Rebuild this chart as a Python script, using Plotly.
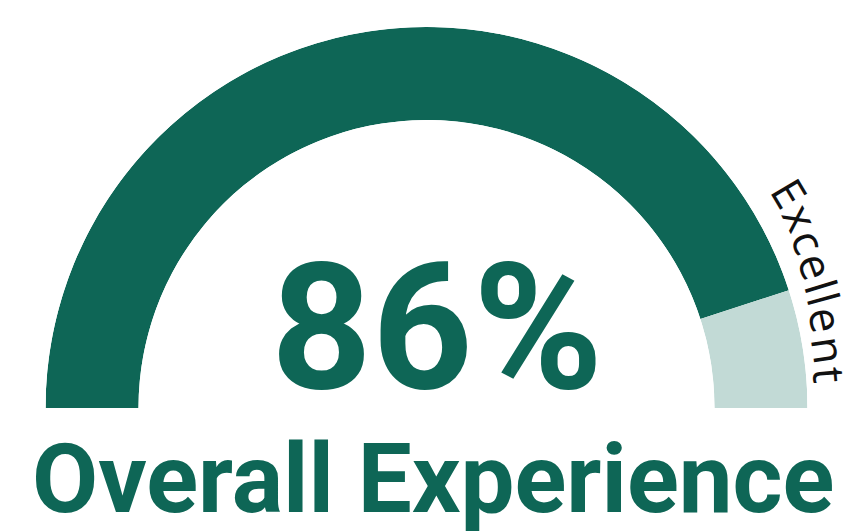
import plotly.graph_objects as go
import numpy as np

# ---- data ----
segment_labels = ["Overall", "Excellent"]
segment_values = [90, 10]          # visible arc split
segment_colors = ["#0e6656", "#c2dad6"]
value_label = "86%"
title_label = "Overall Experience"
band_label = "Excellent"

W, H = 846, 531
total = sum(segment_values)
widths = [180 * v / total for v in segment_values]
centers = []
start = 180
for w in widths:
    centers.append(start - w / 2)
    start -= w

fig = go.Figure()
fig.add_trace(go.Barpolar(
    r=[1] * len(segment_values),
    theta=centers,
    width=widths,
    marker=dict(color=segment_colors, line=dict(width=0)),
    text=segment_labels,
    hoverinfo="text",
    showlegend=False,
))

cx, cy, R = 426.5, 408, 381
fig.update_layout(
    width=W, height=H,
    margin=dict(l=0, r=0, t=0, b=0),
    paper_bgcolor="white", plot_bgcolor="white",
    polar=dict(
        domain=dict(x=[(cx - R) / W, (cx + R) / W], y=[(H - cy) / H, (H - cy + R) / H]),
        sector=[0, 180],
        hole=288 / 381,
        bgcolor="rgba(0,0,0,0)",
        radialaxis=dict(visible=False, range=[0, 1]),
        angularaxis=dict(visible=False),
    ),
)

fig.add_annotation(
    x=437 / W, y=(H - 328) / H, xref="paper", yref="paper",
    text=f"<b>{value_label}</b>", showarrow=False,
    font=dict(family="Roboto", size=176, color="#0e6656"),
    xanchor="center", yanchor="middle",
)
fig.add_annotation(
    x=433 / W, y=(H - 479) / H, xref="paper", yref="paper",
    text=f"<b>{title_label}</b>", showarrow=False,
    font=dict(family="Roboto", size=96, color="#0e6656"),
    xanchor="center", yanchor="middle",
)

# curved band label along the outside of the arc
adv = {"E": 0.56, "x": 0.52, "c": 0.48, "e": 0.56, "l": 0.26, "n": 0.61, "t": 0.36}
fs = 44
spacing = 1.12
theta0, r0, r1 = 32.5, 424.0, 404.0
lengths = [adv.get(ch, 0.55) * fs * spacing for ch in band_label]
tot_len = sum(lengths)
pos = 0.0
for ch, L in zip(band_label, lengths):
    s = pos + L / 2
    frac = s / tot_len
    r = r0 + (r1 - r0) * frac
    th = theta0 - np.degrees(s / r)
    x = cx + r * np.cos(np.radians(th))
    y = cy - r * np.sin(np.radians(th))
    fig.add_annotation(
        x=x / W, y=(H - y) / H, xref="paper", yref="paper",
        text=ch, showarrow=False, textangle=90 - th,
        font=dict(family="Open Sans", size=fs, color="#111111"),
        xanchor="center", yanchor="middle",
    )
    pos += L

fig.write_html("out.html")
